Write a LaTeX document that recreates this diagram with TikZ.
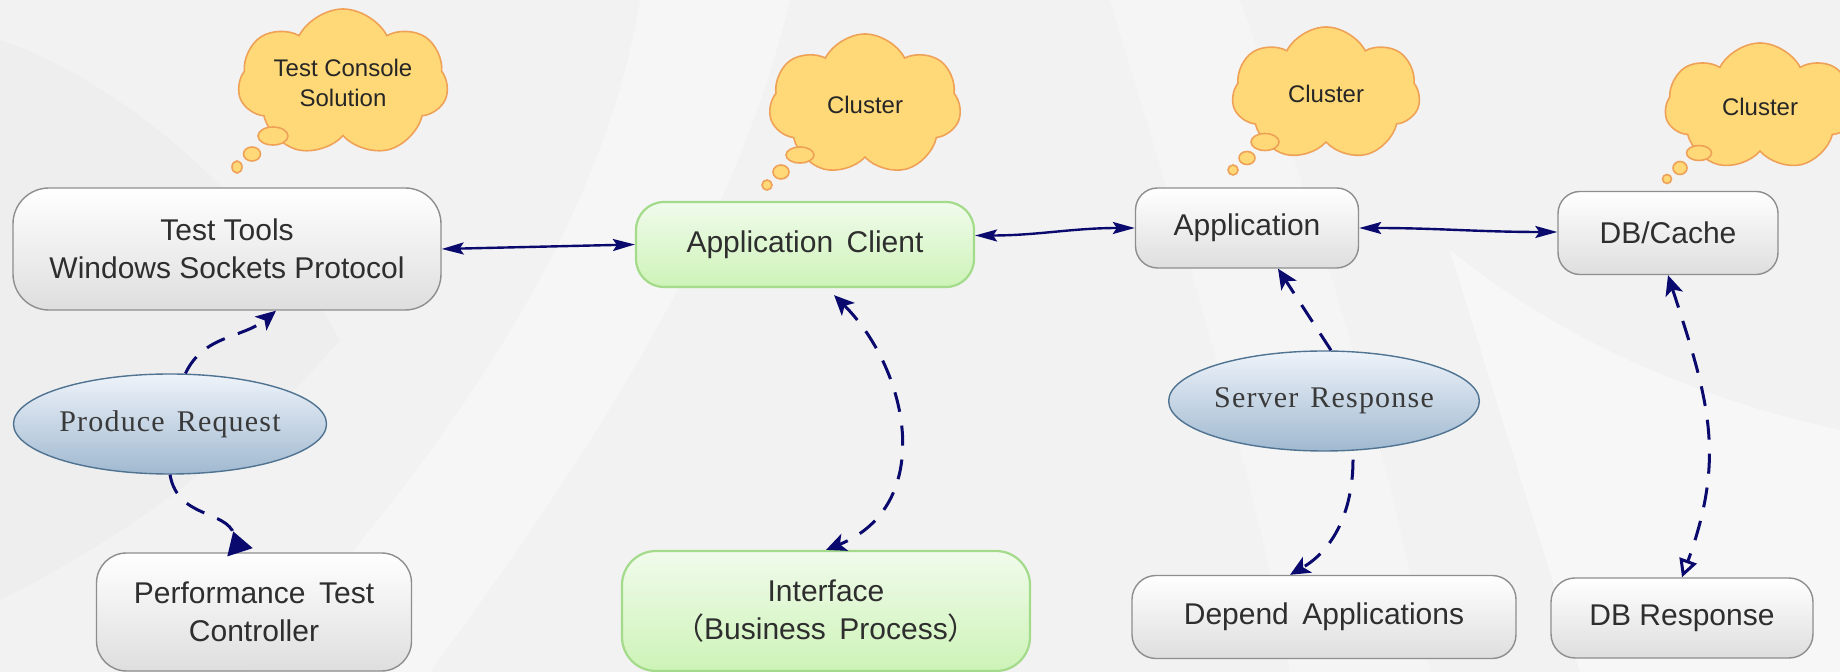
\documentclass[tikz,border=0pt]{standalone}
\usepackage{fontspec}
\setmainfont{Liberation Sans}
\newfontfamily\serifx[LetterSpace=4]{Liberation Serif}
\newfontfamily\cjk{Noto Sans CJK SC}
\usetikzlibrary{shapes.geometric,shapes.symbols,arrows.meta,calc}
\definecolor{bgbase}{HTML}{F2F2F2}
\definecolor{boxline}{HTML}{8E8E8E}
\definecolor{boxbot}{HTML}{DEDEDE}
\definecolor{txt}{HTML}{2E2E2E}
\definecolor{gline}{HTML}{A3DB8A}
\definecolor{gtop}{HTML}{F1FBEC}
\definecolor{gbot}{HTML}{CDF3B7}
\definecolor{ovline}{HTML}{4F7391}
\definecolor{ovtop}{HTML}{EEF3FA}
\definecolor{ovbot}{HTML}{A0B9D0}
\definecolor{ovtxt}{HTML}{3A3A3A}
\definecolor{cldline}{HTML}{EFA257}
\definecolor{cldfill}{HTML}{FFD978}
\definecolor{navy}{RGB}{10,10,110}
\tikzset{
 box/.style={draw=boxline, line width=0.7pt, rounded corners=16pt, top color=white, bottom color=boxbot, text=txt, font=\fontsize{15}{19}\selectfont, align=center, inner sep=0pt},
 gbox/.style={box, draw=gline, line width=1.1pt, top color=gtop, bottom color=gbot},
 oval/.style={ellipse, draw=ovline, line width=0.7pt, top color=ovtop, bottom color=ovbot, inner sep=0pt, font=\serifx\fontsize{15}{18}\selectfont, text=ovtxt},
 thought/.style={cloud, cloud puffs=7, cloud puff arc=125, cloud ignores aspect, draw=cldline, fill=cldfill, line width=0.8pt, inner sep=0pt, font=\fontsize{12}{15}\selectfont, align=center, text=black!85},
 bubble/.style={draw=cldline, fill=cldfill, line width=0.8pt},
 link/.style={draw=navy, line width=1.2pt, <->, >={Stealth[length=11pt,width=6pt,inset=2pt]}},
 dlink/.style={draw=navy, line width=1.5pt, dash pattern=on 10pt off 7pt, >={Stealth[length=10pt,width=9pt,inset=2.5pt]}},
}
\begin{document}
\begin{tikzpicture}[x=0.5pt,y=0.5pt]
\useasboundingbox (0,0) rectangle (1840,-672);
% background
\fill[bgbase] (0,0) rectangle (1840,-672);
\fill[white,opacity=.35] (640,0) .. controls (600,-250) and (420,-480) .. (250,-672) -- (430,-672) .. controls (570,-480) and (730,-250) .. (790,0) -- cycle;
\fill[white,opacity=.3] (1110,0) .. controls (1170,-200) and (1250,-450) .. (1290,-672) -- (1430,-672) .. controls (1390,-450) and (1310,-200) .. (1240,0) -- cycle;
\fill[white,opacity=.45] (1840,-430) .. controls (1700,-400) and (1560,-340) .. (1450,-250) .. controls (1520,-480) and (1560,-600) .. (1580,-672) -- (1840,-672) -- cycle;
\fill[black,opacity=.015] (0,-40) .. controls (120,-80) and (260,-200) .. (340,-340) .. controls (220,-480) and (80,-560) .. (0,-600) -- cycle;

% thought clouds
\node[thought, minimum width=105pt, minimum height=74pt] (c0) at (343,-83) {Test Console\\Solution};
\draw[bubble] (273,-136) ellipse [x radius=15, y radius=9];
\draw[bubble] (252,-154) ellipse [x radius=8.5, y radius=7];
\draw[bubble] (237,-167) ellipse [x radius=5, y radius=6];

\node[thought, minimum width=96pt, minimum height=71pt] (c1) at (865,-105) {Cluster};
\draw[bubble] (800,-155) ellipse [x radius=14, y radius=8];
\draw[bubble] (781,-172) ellipse [x radius=8, y radius=7];
\draw[bubble] (767,-185) ellipse [x radius=5, y radius=5];

\node[thought, minimum width=94pt, minimum height=67pt] (c2) at (1326,-94) {Cluster};
\draw[bubble] (1265,-142) ellipse [x radius=14, y radius=8.5];
\draw[bubble] (1247,-158) ellipse [x radius=8, y radius=6.5];
\draw[bubble] (1233,-170) ellipse [x radius=5, y radius=5];

\node[thought, minimum width=95pt, minimum height=64pt] (c3) at (1760,-107) {Cluster};
\draw[bubble] (1699,-153) ellipse [x radius=12.5, y radius=7.5];
\draw[bubble] (1680,-168) ellipse [x radius=7, y radius=6.5];
\draw[bubble] (1667,-179) ellipse [x radius=4.5, y radius=4.5];

% boxes
\node[box, minimum width=214pt, minimum height=61pt, rounded corners=18pt] (tools) at (227,-249) {Test Tools\\Windows Sockets Protocol};
\node[gbox, minimum width=169pt, minimum height=42.5pt, rounded corners=14pt] (client) at (805,-244.5) {Application\hspace{0.45em}Client};
\node[box, minimum width=111.5pt, minimum height=40pt, rounded corners=11pt] (app) at (1247,-228) {Application};
\node[box, minimum width=110pt, minimum height=41.5pt, rounded corners=11pt] (db) at (1668,-233) {DB/Cache};
\node[box, minimum width=157.5pt, minimum height=59pt, rounded corners=15pt] (perf) at (254,-612) {Performance\hspace{0.45em}Test\\Controller};
\node[gbox, minimum width=204pt, minimum height=60pt, rounded corners=17pt] (iface) at (826,-611) {Interface\\{\cjk （}Business\hspace{0.45em}Process{\cjk ）}};
\node[box, minimum width=192pt, minimum height=41.5pt, rounded corners=12pt] (depend) at (1324,-617) {Depend\hspace{0.45em}Applications};
\node[box, minimum width=131pt, minimum height=40pt, rounded corners=12pt] (dbresp) at (1682,-618) {DB Response};
\node[oval, minimum width=134.5pt, minimum height=50pt] (produce) at (170,-424) {Produce\hspace{0.4em}Request};
\node[oval, minimum width=134.5pt, minimum height=50pt] (server) at (1324,-401) {Server\hspace{0.4em}Response};

% solid connectors
\draw[link] (tools.east) -- (client.west);
\draw[link] ($(client.east)+(0,9)$) to[out=0,in=180] (app.west);
\draw[link] (app.east) to[out=0,in=180] ($(db.west)+(0,1)$);

% dashed connectors
\draw[dlink,->] (produce.73) to[out=65,in=-140] ($(tools.south)+(49,0)$);
\draw[dlink,-{Triangle[reversed,length=11pt,width=13pt]}] (produce.south) to[out=-80,in=108,looseness=1.1] ($(perf.north)+(-14,0)$);
\draw[dlink,<->,shorten <=5pt] (client.south -| 827,0) to[out=-45,in=22,looseness=1.15] (iface.north);
\draw[dlink,->] ($(server.north)+(7,0)$) -- ($(app.south)+(31,0)$);
\draw[dlink,->,shorten <=4pt] ($(server.south)+(29,0)$) to[out=-90,in=30] ($(depend.north)+(-34,0)$);
\draw[dlink,{Stealth[length=10pt,width=9pt,inset=2.5pt]}-{Triangle[open,length=9pt,width=9pt,line width=1.5pt]}] (db.south) to[out=-72,in=70,looseness=1.1] (dbresp.north);
\end{tikzpicture}
\end{document}
